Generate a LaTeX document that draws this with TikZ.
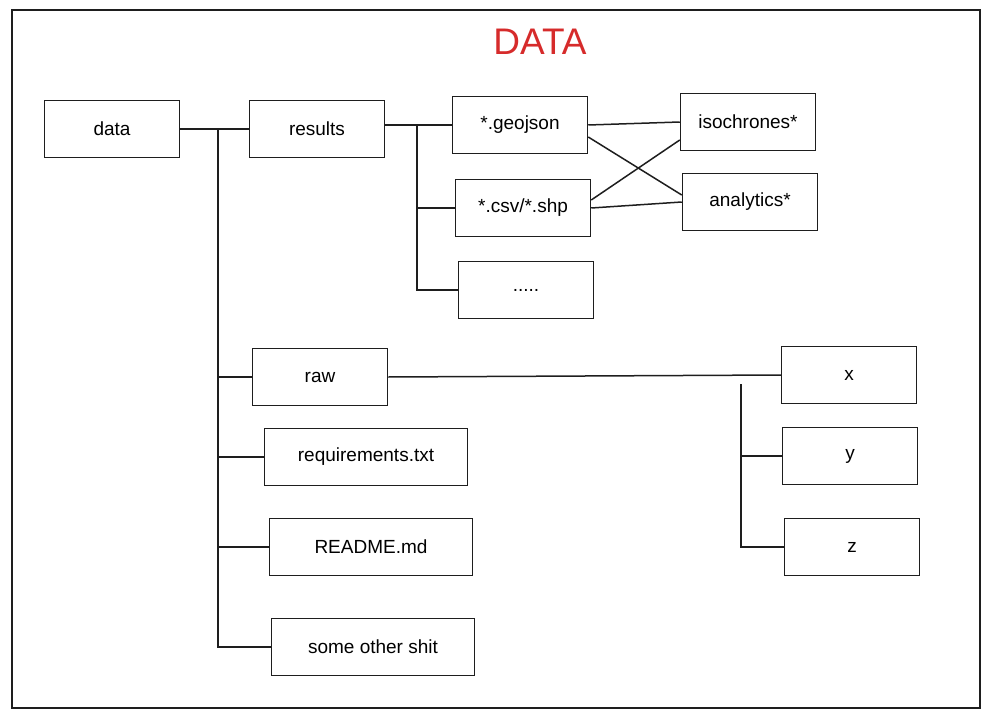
\documentclass[tikz,border=0pt]{standalone}
\usepackage{fontspec}
\setmainfont{Liberation Sans}
\usepackage{xcolor}
\usepackage{tikz}
\usetikzlibrary{positioning,calc}
\definecolor{ink}{HTML}{1E1E1E}
\definecolor{titlered}{HTML}{D62B2B}

\begin{document}
\begin{tikzpicture}[
  x=1pt, y=-1pt,
  box/.style={
    draw=ink, line width=1.5pt,
    minimum height=57pt, minimum width=135pt,
    align=center, font=\fontsize{19}{22}\selectfont
  },
  wide/.style={box, minimum width=203pt},
  conn/.style={ink, line width=1.5pt},
  ttl/.style={font=\fontsize{37}{40}\selectfont, text=titlered}
]
  \useasboundingbox (0,0) rectangle (991,717);
  % outer frame and title
  \draw[conn] (12,10) rectangle (980,708);
  \node[ttl] (title) at (540,42) {DATA};

  % root and first level
  \node[box]  (data)    at (112,129) {data};
  \node[box]  (results) at (317,129) {results};
  \node[box]  (raw)     at (320,377) {raw};
  \node[wide] (req)     at (366,457) {requirements.txt};
  \node[wide] (readme)  at (371,547) {README.md};
  \node[wide] (other)   at (373,647) {some other shit};

  % results subtree
  \node[box] (geojson)   at (520,125) {*.geojson};
  \node[box] (csvshp)    at (523,208) {*.csv/*.shp};
  \node[box] (dots)      at (526,290) {.....};
  \node[box] (iso)       at (748,122) {isochrones*};
  \node[box] (analytics) at (750,202) {analytics*};

  % raw subtree
  \node[box] (xdir) at (849,375) {x};
  \node[box] (ydir) at (850,456) {y};
  \node[box] (zdir) at (852,547) {z};

  % data trunk
  \coordinate (dtrunk) at (218,130);
  \draw[conn] (data.east) -- (results.west);
  \draw[conn] (dtrunk) |- (raw.west);
  \draw[conn] (dtrunk) |- (req.west);
  \draw[conn] (dtrunk) |- (readme.west);
  \draw[conn] (dtrunk) |- (other.west);

  % results trunk
  \coordinate (rtrunk) at (417,125);
  \draw[conn] (results.east |- rtrunk) -- (geojson.west);
  \draw[conn] (rtrunk) |- (csvshp.west);
  \draw[conn] (rtrunk) |- (dots.west);

  % cross links
  \draw[conn] (geojson.east) -- (iso.west);
  \draw[conn] (geojson.east) ++(0,12) -- ($(analytics.west)+(0,-7)$);
  \draw[conn] (csvshp.east) ++(0,-8) -- ($(iso.west)+(0,18)$);
  \draw[conn] (csvshp.east) -- (analytics.west);

  % raw trunk
  \coordinate (xtrunk) at (741,384);
  \draw[conn] (raw.east) -- (xdir.west);
  \draw[conn] (xtrunk) |- (ydir.west);
  \draw[conn] (xtrunk) |- (zdir.west);
\end{tikzpicture}
\end{document}
